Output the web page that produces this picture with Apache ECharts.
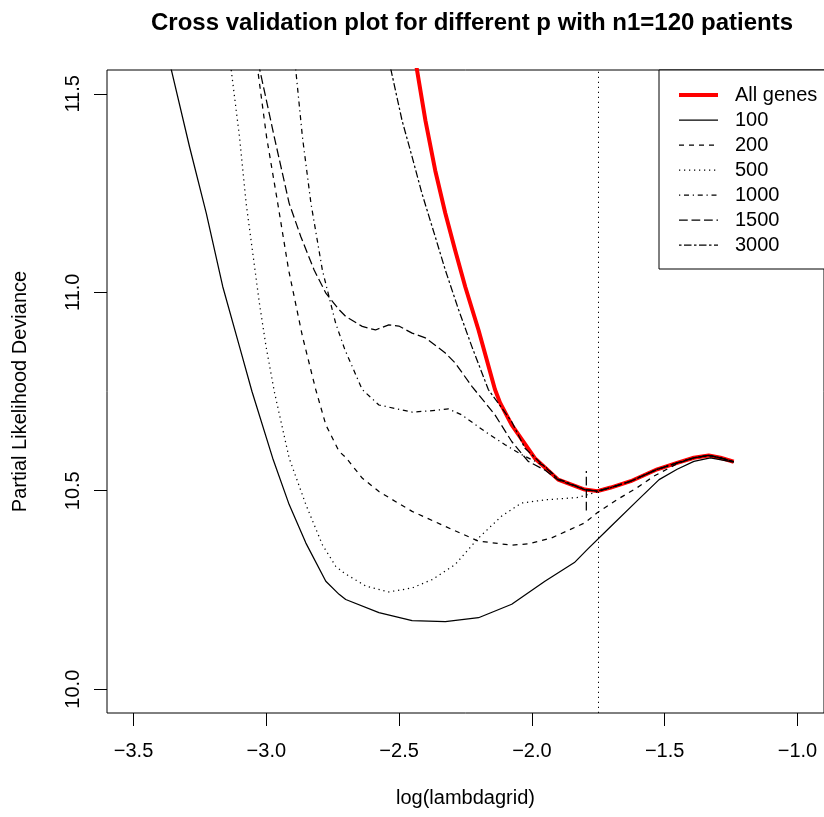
<!DOCTYPE html>
<html>
<head>
<meta charset="utf-8">
<script src="https://cdn.jsdelivr.net/npm/echarts@6/dist/echarts.min.js"></script>
<style>
html,body{margin:0;padding:0;background:#fff;}
#chart{width:824px;height:817px;}
</style>
</head>
<body>
<div id="chart"></div>
<script>
// ---- data (log(lambdagrid) vs partial likelihood deviance) ----
const xTicks = [-3.5, -3.0, -2.5, -2.0, -1.5, -1.0];
const yTicks = [10.0, 10.5, 11.0, 11.5];

const allX = [-2.46, -2.401, -2.364, -2.326, -2.289, -2.251, -2.201, -2.139, -2.120, -2.076, -1.989, -1.901, -1.801, -1.753, -1.703, -1.628, -1.528, -1.453, -1.390, -1.334, -1.290, -1.240];
const allY = [11.67, 11.433, 11.307, 11.199, 11.106, 11.014, 10.905, 10.755, 10.722, 10.666, 10.582, 10.528, 10.503, 10.499, 10.508, 10.524, 10.554, 10.570, 10.583, 10.589, 10.583, 10.573];

const p100X = [-3.40, -3.289, -3.226, -3.164, -3.101, -3.054, -2.976, -2.914, -2.851, -2.776, -2.726, -2.701, -2.576, -2.451, -2.326, -2.201, -2.076, -1.951, -1.840, -1.790, -1.703, -1.603, -1.521, -1.453, -1.390, -1.328, -1.240];
const p100Y = [11.68, 11.366, 11.199, 11.014, 10.863, 10.750, 10.582, 10.465, 10.368, 10.272, 10.239, 10.226, 10.193, 10.173, 10.170, 10.180, 10.214, 10.272, 10.319, 10.353, 10.410, 10.475, 10.528, 10.554, 10.574, 10.583, 10.572];

const p200X = [-3.06, -2.999, -2.957, -2.916, -2.864, -2.814, -2.776, -2.726, -2.701, -2.639, -2.576, -2.514, -2.451, -2.326, -2.201, -2.076, -2.014, -1.926, -1.801, -1.753, -1.678, -1.603, -1.540, -1.453, -1.390, -1.334, -1.290, -1.240];
const p200Y = [11.70, 11.391, 11.224, 11.056, 10.889, 10.755, 10.666, 10.599, 10.584, 10.532, 10.498, 10.473, 10.448, 10.410, 10.373, 10.363, 10.366, 10.381, 10.419, 10.445, 10.478, 10.508, 10.537, 10.568, 10.583, 10.589, 10.583, 10.573];

const p500X = [-3.16, -3.101, -3.076, -3.051, -3.026, -3.001, -2.970, -2.914, -2.851, -2.789, -2.739, -2.708, -2.626, -2.539, -2.451, -2.376, -2.289, -2.201, -2.114, -2.039, -1.951, -1.827, -1.765, -1.703, -1.628, -1.528, -1.453, -1.390, -1.334, -1.290, -1.240];
const p500Y = [11.71, 11.391, 11.224, 11.098, 10.972, 10.863, 10.750, 10.582, 10.465, 10.364, 10.310, 10.293, 10.260, 10.245, 10.255, 10.276, 10.314, 10.381, 10.436, 10.469, 10.477, 10.483, 10.495, 10.508, 10.524, 10.554, 10.570, 10.583, 10.589, 10.583, 10.573];

const p1000X = [-2.91, -2.864, -2.832, -2.789, -2.739, -2.704, -2.639, -2.576, -2.451, -2.389, -2.314, -2.264, -2.176, -2.101, -2.039, -1.951, -1.901, -1.801, -1.753, -1.703, -1.628, -1.528, -1.453, -1.390, -1.334, -1.290, -1.240];
const p1000Y = [11.70, 11.391, 11.224, 11.056, 10.922, 10.855, 10.755, 10.716, 10.698, 10.701, 10.706, 10.691, 10.649, 10.616, 10.591, 10.562, 10.530, 10.503, 10.499, 10.508, 10.524, 10.554, 10.570, 10.583, 10.589, 10.583, 10.573];

const p1500X = [-3.06, -2.970, -2.914, -2.870, -2.820, -2.776, -2.726, -2.701, -2.639, -2.589, -2.539, -2.501, -2.451, -2.401, -2.326, -2.289, -2.226, -2.139, -2.076, -2.014, -1.951, -1.901, -1.801, -1.753, -1.703, -1.628, -1.528, -1.453, -1.390, -1.334, -1.290, -1.240];
const p1500Y = [11.67, 11.391, 11.224, 11.140, 11.056, 10.998, 10.956, 10.939, 10.914, 10.905, 10.918, 10.915, 10.897, 10.885, 10.847, 10.822, 10.763, 10.691, 10.624, 10.574, 10.552, 10.527, 10.503, 10.499, 10.508, 10.524, 10.554, 10.570, 10.583, 10.589, 10.583, 10.573];

const p3000X = [-2.56, -2.489, -2.451, -2.414, -2.364, -2.326, -2.276, -2.226, -2.164, -2.076, -2.026, -1.951, -1.901, -1.801, -1.753, -1.703, -1.628, -1.528, -1.453, -1.390, -1.334, -1.290, -1.240];
const p3000Y = [11.65, 11.433, 11.341, 11.249, 11.140, 11.056, 10.956, 10.863, 10.755, 10.674, 10.607, 10.560, 10.529, 10.503, 10.499, 10.508, 10.524, 10.554, 10.570, 10.583, 10.589, 10.583, 10.573];

const cvX = -1.753;           // vertical dotted reference line
const segX = -1.795;          // short vertical segment
const segY = [10.45, 10.55];

const seriesNames = ['All genes', '100', '200', '500', '1000', '1500', '3000'];

// ---- chart ----
const FONT = '"Liberation Sans", Arial, Helvetica, sans-serif';
const S = 1.25; // R dash unit scale
const LTY = {
  solid: 'solid',
  dashed: [4 * S, 4 * S],
  dotted: [1 * S, 3 * S],
  dotdash: [1 * S, 3 * S, 4 * S, 3 * S],
  longdash: [7 * S, 3 * S],
  twodash: [2 * S, 2 * S, 6 * S, 2 * S]
};
const zip = (xs, ys) => xs.map((x, i) => [x, ys[i]]);

function lineSeries(name, xs, ys, type, color, width) {
  return {
    name: name,
    type: 'line',
    data: zip(xs, ys),
    symbol: 'none',
    showSymbol: false,
    legendIcon: 'none',
    smooth: false,
    clip: true,
    silent: true,
    lineStyle: { color: color, width: width, type: type, cap: 'butt', join: 'round' },
    itemStyle: { color: color },
    emphasis: { disabled: true }
  };
}

const series = [
  Object.assign(lineSeries(seriesNames[0], allX, allY, 'solid', '#ff0000', 4), {
    markLine: {
      silent: true,
      symbol: 'none',
      label: { show: false },
      lineStyle: { color: '#000', width: 1, type: LTY.dotted },
      data: [{ xAxis: cvX }]
    }
  }),
  lineSeries(seriesNames[1], p100X, p100Y, LTY.solid, '#000', 1.25),
  lineSeries(seriesNames[2], p200X, p200Y, LTY.dashed, '#000', 1.25),
  lineSeries(seriesNames[3], p500X, p500Y, LTY.dotted, '#000', 1.25),
  lineSeries(seriesNames[4], p1000X, p1000Y, LTY.dotdash, '#000', 1.25),
  lineSeries(seriesNames[5], p1500X, p1500Y, LTY.longdash, '#000', 1.25),
  lineSeries(seriesNames[6], p3000X, p3000Y, LTY.twodash, '#000', 1.25),
  lineSeries('segment', [segX, segX], segY, LTY.longdash, '#000', 1.25)
];

const chart = echarts.init(document.getElementById('chart'), null, { renderer: 'canvas' });
chart.setOption({
  animation: false,
  backgroundColor: '#fff',
  title: {
    text: 'Cross validation plot for different p with n1=120 patients',
    left: 467,
    top: 6,
    textAlign: 'center',
    textStyle: { fontFamily: FONT, fontSize: 24, fontWeight: 'bold', color: '#000' }
  },
  grid: {
    left: 107, top: 70, width: 720, height: 643,
    show: true, borderColor: '#000', borderWidth: 1, backgroundColor: 'transparent',
    containLabel: false
  },
  legend: {
    data: seriesNames,
    orient: 'vertical',
    left: 659,
    top: 70,
    padding: [15, 12, 14, 18],
    itemGap: 5,
    itemWidth: 39,
    itemHeight: 14,
    borderColor: '#000',
    borderWidth: 1,
    backgroundColor: '#fff',
    selectedMode: false,
    itemStyle: { opacity: 0, borderWidth: 0 },
    lineStyle: { opacity: 1, width: 'inherit', type: 'inherit' },
    textStyle: { fontFamily: FONT, fontSize: 20, color: '#000', lineHeight: 20, padding: [0, 0, 0, 12] }
  },
  xAxis: {
    type: 'value',
    min: -3.6,
    max: -0.9,
    name: 'log(lambdagrid)',
    nameLocation: 'middle',
    nameGap: 75,
    nameTextStyle: { fontFamily: FONT, fontSize: 20, color: '#000' },
    axisLine: { show: false },
    splitLine: { show: false },
    axisTick: { show: true, length: 13, inside: false, customValues: xTicks, lineStyle: { color: '#000', width: 1 } },
    axisLabel: {
      customValues: xTicks, margin: 28,
      fontFamily: FONT, fontSize: 20, color: '#000',
      formatter: v => (v < 0 ? '\u2212' : '') + Math.abs(v).toFixed(1)
    }
  },
  yAxis: {
    type: 'value',
    min: 9.94,
    max: 11.56,
    name: 'Partial Likelihood Deviance',
    nameLocation: 'middle',
    nameGap: 77,
    nameRotate: 90,
    nameTextStyle: { fontFamily: FONT, fontSize: 20, color: '#000' },
    axisLine: { show: false },
    splitLine: { show: false },
    axisTick: { show: true, length: 13, inside: false, customValues: yTicks, lineStyle: { color: '#000', width: 1 } },
    axisLabel: {
      customValues: yTicks, margin: 24, rotate: 90,
      fontFamily: FONT, fontSize: 20, color: '#000',
      formatter: v => v.toFixed(1)
    }
  },
  series: series
});
</script>
</body>
</html>
